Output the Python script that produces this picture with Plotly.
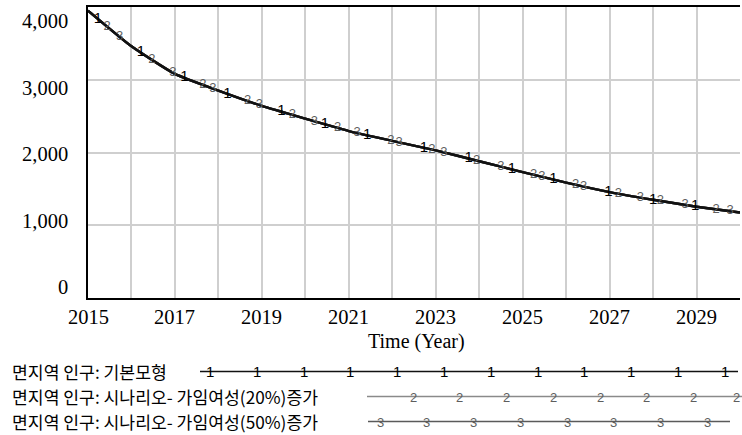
import numpy as np
import plotly.graph_objects as go

# Simulated rural-district population, 2015-2030
years = list(range(2015, 2031))
pop_base = [3950, 3460, 3080, 2850, 2640, 2465, 2295, 2160, 2030, 1880,
            1730, 1585, 1455, 1350, 1255, 1175]
pop_s20 = [3950, 3460, 3080, 2850, 2640, 2465, 2295, 2160, 2030, 1880,
           1730, 1585, 1455, 1350, 1255, 1175]
pop_s50 = [3950, 3460, 3080, 2850, 2640, 2465, 2295, 2160, 2030, 1880,
           1730, 1585, 1455, 1350, 1255, 1175]

series_names = [
    "면지역 인구: 기본모형",
    "면지역 인구: 시나리오- 가임여성(20%)증가",
    "면지역 인구: 시나리오- 가임여성(50%)증가",
]
series_tags = ["1", "2", "3"]
y_tick_values = [0, 1000, 2000, 3000, 4000]
x_tick_labels = [2015, 2017, 2019, 2021, 2023, 2025, 2027, 2029]
x_title = "Time (Year)"

# ---- layout helpers (pixel -> paper) ----
W, H = 742, 435
PL, PR, PT, PB = 88, 740, 7, 298          # plot box in pixels


def fx(px):
    return (px - PL) / (PR - PL)


def fy(py):
    return (PB - py) / (PB - PT)


NUM_FONT = "Liberation Serif"
KR_FONT = "Noto Sans CJK KR"
TAG_FONT = "Liberation Sans"

line_colors = ["#111111", "#3a3a3a", "#2a2a2a"]
tag_colors = ["#000000", "#5e5e5e", "#5e5e5e"]
tag_sizes = [15, 13, 13]

# staggered label times along each curve
tag_times = [
    [2015.23, 2016.22, 2017.22, 2018.21, 2019.45, 2020.45, 2021.42, 2022.73,
     2023.76, 2024.75, 2025.71, 2026.97, 2028.0, 2028.97],
    [2015.44, 2016.47, 2017.64, 2018.67, 2019.70, 2020.74, 2021.97, 2022.91,
     2023.94, 2025.25, 2026.22, 2027.20, 2028.17, 2029.45],
    [2015.73, 2016.95, 2017.87, 2018.94, 2020.21, 2021.19, 2022.16, 2023.19,
     2024.50, 2025.44, 2026.40, 2027.71, 2028.74, 2029.77],
]

fig = go.Figure()
all_series = [pop_base, pop_s20, pop_s50]

# lines: scenario runs underneath, base run on top
for i in [2, 1, 0]:
    fig.add_trace(go.Scatter(
        x=years, y=all_series[i], mode="lines",
        line=dict(color=line_colors[i], width=2.4, shape="spline", smoothing=0.5),
        hoverinfo="skip", showlegend=False))

for i in [2, 1, 0]:
    t = np.array(tag_times[i])
    yv = np.interp(t, years, all_series[i])
    fig.add_trace(go.Scatter(
        x=t, y=yv, mode="text", text=[series_tags[i]] * len(t),
        textposition="middle center",
        textfont=dict(family=TAG_FONT, size=tag_sizes[i], color=tag_colors[i]),
        hoverinfo="skip", showlegend=False))

annotations = []
shapes = []

# y tick labels (spread slightly inside the axis range)
for v in y_tick_values:
    py = 21 + (4000 - v) / 1000 * 66.5
    annotations.append(dict(
        x=fx(70), y=fy(py), xref="paper", yref="paper",
        text=f"{v:,}", showarrow=False, xanchor="right", yanchor="middle",
        font=dict(family=NUM_FONT, size=20.5, color="black")))

# x tick labels
for yr in x_tick_labels:
    annotations.append(dict(
        x=yr, y=fy(317), xref="x", yref="paper",
        text=str(yr), showarrow=False, xanchor="center", yanchor="middle",
        font=dict(family=NUM_FONT, size=20.5, color="black")))

annotations.append(dict(
    x=fx(416), y=fy(341), xref="paper", yref="paper",
    text=x_title, showarrow=False, xanchor="center", yanchor="middle",
    font=dict(family=NUM_FONT, size=20, color="black")))

# legend rows
legend_rows = [
    dict(y=371.5, x0=200, x1=738, tag_start=210, tag_end=730, color="#111111"),
    dict(y=396.5, x0=367, x1=742, tag_start=413, tag_end=736, color="#8a8a8a"),
    dict(y=421.5, x0=368, x1=730, tag_start=380, tag_end=712, color="#5a5a5a"),
]
for i, row in enumerate(legend_rows):
    annotations.append(dict(
        x=fx(11), y=fy(row["y"]), xref="paper", yref="paper",
        text=series_names[i], showarrow=False, xanchor="left", yanchor="middle",
        borderpad=0,
        font=dict(family=KR_FONT, size=17.2, color="black")))
    shapes.append(dict(
        type="line", xref="paper", yref="paper",
        x0=fx(row["x0"]), x1=fx(row["x1"]), y0=fy(row["y"]), y1=fy(row["y"]),
        line=dict(color=row["color"], width=1.6)))
    px = row["tag_start"]
    while px <= row["tag_end"] + 0.5:
        annotations.append(dict(
            x=fx(px), y=fy(row["y"] + (0 if i == 0 else 1)),
            xref="paper", yref="paper", borderpad=0,
            text=series_tags[i], showarrow=False, xanchor="center", yanchor="middle",
            font=dict(family=TAG_FONT, size=tag_sizes[i], color=tag_colors[i])))
        px += 46.8
    if i == 1:
        annotations.append(dict(
            x=fx(row["tag_end"]), y=fy(row["y"] + 1), xref="paper", yref="paper",
            text=series_tags[i], showarrow=False, xanchor="center", yanchor="middle",
            borderpad=0,
            font=dict(family=TAG_FONT, size=tag_sizes[i], color=tag_colors[i])))

fig.update_layout(
    width=W, height=H, autosize=False,
    margin=dict(l=PL, r=W - PR, t=PT, b=H - PB),
    paper_bgcolor="white", plot_bgcolor="white",
    annotations=annotations, shapes=shapes,
    xaxis=dict(range=[2015, 2030], dtick=1, tick0=2015,
               showgrid=True, gridcolor="#cfcfcf", gridwidth=2,
               showline=True, linecolor="black", linewidth=2, mirror=True,
               zeroline=False, showticklabels=False, ticks=""),
    yaxis=dict(range=[0, 4000], dtick=1000, tick0=0,
               showgrid=True, gridcolor="#cfcfcf", gridwidth=2,
               showline=True, linecolor="black", linewidth=2, mirror=False,
               zeroline=False, showticklabels=False, ticks=""),
)

fig.write_html("out.html")
